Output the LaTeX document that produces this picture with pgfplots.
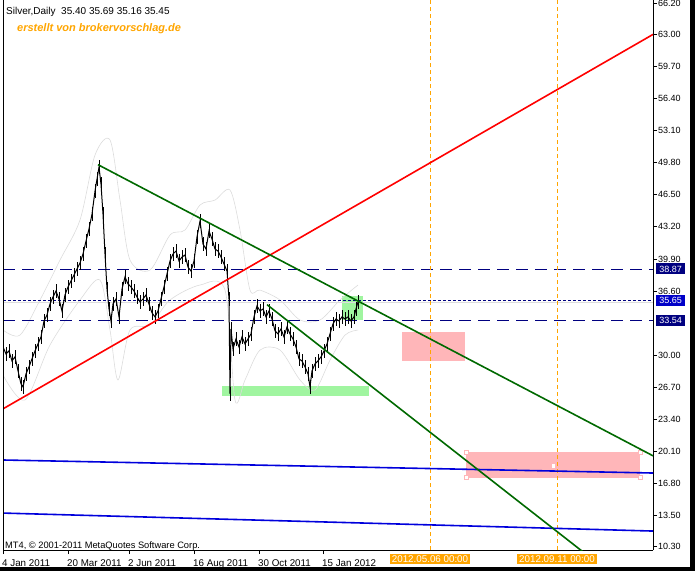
\documentclass[border=0pt]{standalone}
\usepackage{fontspec}
\setmainfont{Liberation Sans}
\usepackage{pgfplots}
\pgfplotsset{compat=1.18}

\definecolor{mtnavy}{RGB}{0,0,128}
\definecolor{mtbox}{RGB}{0,0,200}
\definecolor{mtgreen}{RGB}{0,105,0}
\definecolor{mtorange}{RGB}{255,165,0}
\definecolor{mtpink}{RGB}{255,182,185}
\definecolor{mtlgreen}{RGB}{160,245,160}
\definecolor{mtblue}{RGB}{0,0,220}
\definecolor{mtgrey}{RGB}{220,220,220}

\newcommand{\mtfont}{\fontsize{9}{10}\selectfont}
\newcommand{\mtbig}{\fontsize{9.8}{11}\selectfont}

\begin{document}
\begin{tikzpicture}[x=1pt,y=1pt]
\path[use as bounding box] (0,0) rectangle (695,-571);
\begin{axis}[
    at={(3pt,-550pt)}, anchor=south west,
    scale only axis,
    width=650pt, height=550pt,
    xmin=3, xmax=653,
    ymin=9.96, ymax=66.54,
    axis x line=bottom, axis y line=right,
    axis line style={-, black, line width=0.8pt},
    tick style={black, line width=0.8pt},
    tick align=outside,
    major tick length=4pt,
    clip mode=individual,
    font=\mtfont,
    xtick={3,68,129,194,259,323},
    xticklabels={4 Jan 2011, 20 Mar 2011, 2 Jun 2011, 16 Aug 2011, 30 Oct 2011, 15 Jan 2012},
    xticklabel style={font=\mtbig, anchor=north west, inner sep=0pt, xshift=-1pt, yshift=-5pt},
    ytick={10.3,13.5,16.8,20.1,23.4,26.7,30.0,36.6,39.9,43.2,46.5,49.8,53.1,56.4,59.7,63.0,66.2},
    yticklabel style={anchor=west, inner sep=0pt, xshift=1pt,
        /pgf/number format/.cd, fixed, fixed zerofill, precision=2, assume math mode=true},
]
% rectangles (drawn first)
\addplot[draw=none, fill=mtlgreen] coordinates {(222,25.80)(369,25.80)(369,26.83)(222,26.83)} -- cycle;
\addplot[draw=none, fill=mtlgreen] coordinates {(342,33.62)(363,33.62)(363,36.09)(342,36.09)} -- cycle;
\addplot[draw=none, fill=mtpink] coordinates {(402,29.40)(465,29.40)(465,32.38)(402,32.38)} -- cycle;
\addplot[draw=none, fill=mtpink] coordinates {(466,17.40)(640,17.40)(640,20.04)(466,20.04)} -- cycle;
\addplot[only marks, mark=square*, mark size=2pt, mark options={fill=white, draw=mtpink}]
    coordinates {(466,17.40)(640,17.40)(466,20.04)(640,20.04)};
\addplot[only marks, mark=square*, mark size=1.2pt, mark options={fill=white, draw=white}]
    coordinates {(553,18.65)};

% faint envelope lines
\addplot[mtgrey, line width=0.6pt, smooth] coordinates {
(3,32.59)(20,32.07)(40,35.68)(60,39.79)(80,43.91)(95,50.59)(110,52.14)(120,45.96)
(130,39.79)(150,38.76)(170,42.36)(185,42.88)(200,45.45)(215,45.96)(230,46.99)
(240,42.88)(250,36.70)(260,36.70)(280,35.68)(300,33.62)(320,33.62)(340,35.68)(358,37.22)};
\addplot[mtgrey, line width=0.6pt, smooth] coordinates {
(3,27.96)(25,25.39)(50,31.05)(80,35.68)(100,37.73)(110,32.59)(118,27.45)(130,32.59)
(150,33.10)(170,35.68)(200,37.22)(225,36.70)(235,25.39)(245,27.45)(260,30.53)
(280,30.53)(300,27.45)(315,26.42)(330,29.50)(345,32.07)(358,32.59)};
\addplot[mtgrey, line width=0.6pt] coordinates {(3,35.45)(653,35.45)};

% horizontal levels
\addplot[mtnavy, line width=0.8pt, dash pattern=on 12pt off 7pt] coordinates {(3,38.87)(653,38.87)};
\addplot[mtnavy, line width=0.8pt, dash pattern=on 12pt off 7pt] coordinates {(3,33.54)(653,33.54)};
\addplot[mtnavy, line width=0.8pt, dash pattern=on 3pt off 2pt] coordinates {(3,35.65)(653,35.65)};

% vertical time markers
\addplot[mtorange, line width=0.9pt, dash pattern=on 4pt off 3pt] coordinates {(430,9.96)(430,66.54)};
\addplot[mtorange, line width=0.9pt, dash pattern=on 4pt off 3pt] coordinates {(557,9.96)(557,66.54)};

% blue channel lines
\addplot[mtblue, line width=1.6pt] coordinates {(3,19.22)(653,17.88)};
\addplot[mtblue, line width=1.6pt] coordinates {(3,13.76)(653,11.91)};

% price (daily close with high-low range)
\addplot[black, line width=1pt, sharp plot,
    error bars/.cd, y dir=both, y fixed=0.7, error bar style={line width=1pt}, error mark=none]
coordinates {
(3,30.85)(6,30.13)(9,30.44)(12,29.41)(15,29.83)(18,28.39)(21,27.05)(23,26.74)
(26,28.08)(29,28.80)(32,29.62)(35,30.44)(38,31.16)(41,31.88)(44,33.52)(47,34.14)
(50,35.27)(53,35.99)(56,36.61)(59,35.78)(62,34.55)(65,36.20)(68,37.02)(71,37.63)
(74,38.25)(77,38.87)(80,39.48)(83,40.41)(86,41.74)(89,42.98)(92,44.52)(95,46.88)
(97,48.12)(99,49.35)(101,47.60)(103,44.52)(105,40.41)(107,36.81)(109,34.76)(111,33.52)
(113,35.27)(116,35.78)(119,33.94)(122,36.81)(125,38.05)(128,37.33)(131,37.02)(134,36.61)
(137,35.99)(140,35.48)(143,35.78)(146,36.20)(149,35.27)(152,34.35)(155,33.94)(158,34.55)
(161,35.78)(164,37.02)(167,38.35)(170,39.69)(173,40.41)(176,40.72)(179,39.69)(182,40.10)
(185,40.31)(188,39.07)(191,38.66)(194,39.69)(197,42.16)(200,43.80)(203,41.44)(206,40.92)
(209,42.77)(212,41.95)(215,40.92)(218,40.72)(221,40.10)(224,39.38)(227,38.66)(229,35.78)
(230,26.02)(231,32.70)(233,30.65)(236,31.67)(239,30.85)(242,31.88)(245,31.16)(248,31.67)
(251,32.19)(254,33.94)(257,35.07)(260,34.55)(263,34.76)(266,33.94)(269,34.55)(272,33.73)
(275,32.50)(278,32.19)(281,32.70)(284,31.88)(287,32.91)(290,32.19)(293,31.67)(296,30.85)
(299,29.62)(302,29.41)(305,28.80)(308,28.08)(310,26.74)(312,28.39)(315,29.11)(318,29.41)
(321,29.83)(324,30.44)(327,31.16)(330,32.19)(333,33.22)(336,33.73)(339,33.52)(342,33.94)
(345,33.73)(348,33.94)(351,33.52)(354,33.94)(356,34.76)(358,35.48)};

% trend lines
\addplot[red, line width=1.6pt] coordinates {(3,24.48)(653,63.00)};
\addplot[mtgreen, line width=1.6pt] coordinates {(98,49.60)(653,19.65)};
\addplot[mtgreen, line width=1.6pt] coordinates {(267,35.20)(600,8.40)};

% price tags on the right scale
\tikzset{pricetag/.style={anchor=west, text=white, inner sep=0pt, minimum width=29pt,
    minimum height=11pt, xshift=3pt, font=\mtfont}}
\node[pricetag, fill=mtnavy] at (axis cs:653,38.87) {38.87};
\node[pricetag, fill=mtbox] at (axis cs:653,35.65) {35.65};
\node[pricetag, fill=mtnavy] at (axis cs:653,33.54) {33.54};
% time tags under the markers
\node[anchor=north, fill=mtorange, text=white, inner xsep=2pt, inner ysep=1.5pt, yshift=-4pt, font=\mtbig] at (axis cs:430,9.96) {2012.05.06 00:00};
\node[anchor=north, fill=mtorange, text=white, inner xsep=2pt, inner ysep=1.5pt, yshift=-4pt, font=\mtbig] at (axis cs:557,9.96) {2012.09.11 00:00};
\draw[black, line width=0.8pt] (rel axis cs:0,0) -- (rel axis cs:0,1);
\end{axis}
\node[anchor=base west, inner sep=0pt, font=\fontsize{10}{11}\selectfont] at (6,-14) {Silver,Daily\ \ 35.40 35.69 35.16 35.45};
\node[anchor=base west, inner sep=0pt, font=\fontsize{11}{12}\selectfont\bfseries\itshape, text=mtorange] at (17,-31) {erstellt von brokervorschlag.de};
\node[anchor=base west, inner sep=0pt, font=\fontsize{9.3}{10}\selectfont] at (5,-548) {MT4, © 2001-2011 MetaQuotes Software Corp.};
\fill[black] (690,0) rectangle (695,-571);
\fill[black] (0,-567) rectangle (695,-571);
\end{tikzpicture}
\end{document}
